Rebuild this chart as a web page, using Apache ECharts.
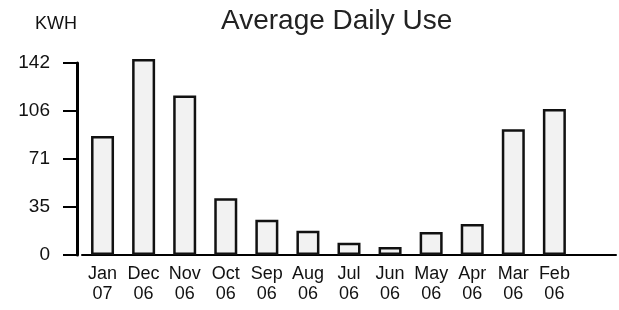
<!DOCTYPE html>
<html>
<head>
<meta charset="utf-8">
<script src="https://cdn.jsdelivr.net/npm/echarts@6/dist/echarts.min.js"></script>
<style>
  html, body { margin: 0; padding: 0; background: #fff; }
  #chart { width: 619px; height: 310px; }
</style>
</head>
<body>
<div id="chart"></div>
<script>
// months, newest first (as in the original report)
const months = ['Jan\n07', 'Dec\n06', 'Nov\n06', 'Oct\n06', 'Sep\n06', 'Aug\n06',
  'Jul\n06', 'Jun\n06', 'May\n06', 'Apr\n06', 'Mar\n06', 'Feb\n06']
const dailyKwh = [88, 145, 118, 42, 26, 18, 9, 6, 17, 23, 93, 108]
const yTicks = [0, 35.5, 71, 106.5, 142]

const chart = echarts.init(document.getElementById('chart'))
const font = 'Liberation Sans, Arial, sans-serif'

chart.setOption({
  animation: false,
  title: [
    {
      text: 'Average Daily Use',
      left: 216,
      top: 2,
      textStyle: { fontFamily: font, fontSize: 28, fontWeight: 'normal', color: '#222' }
    },
    {
      text: 'KWH',
      left: 30,
      top: 10,
      textStyle: { fontFamily: font, fontSize: 18, fontWeight: 'normal', color: '#111' }
    }
  ],
  grid: { left: 82, right: 3, top: 63, bottom: 55 },
  xAxis: {
    type: 'category',
    // trailing empty slot so the baseline runs on past the last bar
    data: months.concat(['']),
    axisLine: { lineStyle: { color: '#000', width: 2 } },
    axisTick: { show: false },
    axisLabel: {
      interval: 0,
      margin: 9,
      fontFamily: font,
      fontSize: 18,
      lineHeight: 20,
      color: '#111'
    }
  },
  yAxis: {
    type: 'value',
    min: yTicks[0],
    max: yTicks[yTicks.length - 1],
    interval: yTicks[1] - yTicks[0],
    offset: 5,
    splitLine: { show: false },
    axisLine: { show: true, lineStyle: { color: '#000', width: 3 } },
    axisTick: { show: true, length: 14, lineStyle: { color: '#000', width: 2 } },
    axisLabel: {
      margin: 27,
      fontFamily: font,
      fontSize: 19,
      color: '#111',
      formatter: v => String(Math.floor(v))
    }
  },
  series: [
    {
      type: 'bar',
      data: dailyKwh,
      barWidth: 23,
      clip: false,
      itemStyle: { color: '#f2f2f2', borderColor: '#111', borderWidth: 2.5 }
    }
  ]
})
</script>
</body>
</html>
